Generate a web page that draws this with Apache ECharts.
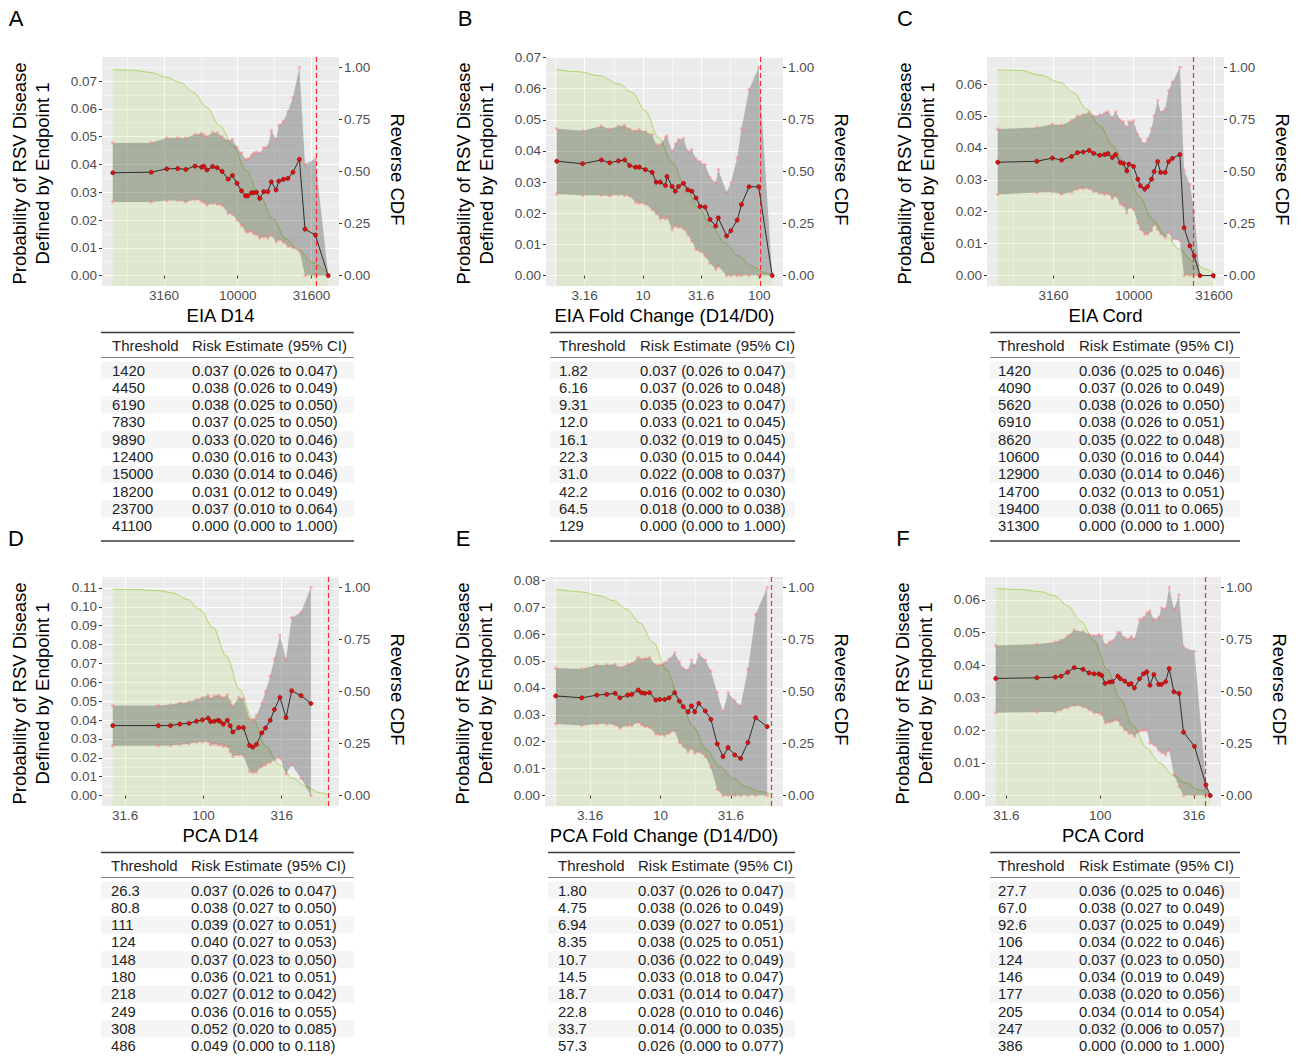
<!DOCTYPE html>
<html>
<head>
<meta charset="utf-8">
<script src="https://cdn.jsdelivr.net/npm/echarts@6/dist/echarts.min.js"></script>
<style>
html,body{margin:0;padding:0;background:#ffffff;}
#chart{width:1310px;height:1057px;}
</style>
</head>
<body>
<div id="chart"></div>
<script>
// ---------------- DATA ----------------
// Panel A : EIA D14
const aThreshold = [1420, 2590, 3300, 3920, 4450, 5130, 5690, 5900, 6190, 6750, 7250, 7830, 8610, 9200, 9890, 10600, 11300, 11700, 12400, 12800, 13400, 14100, 15000, 16000, 16900, 18200, 19000, 20400, 21900, 23700, 26200, 28600, 33600, 41100];
const aRisk = [0.0370, 0.0372, 0.0384, 0.0385, 0.0382, 0.0394, 0.0390, 0.0393, 0.0380, 0.0392, 0.0388, 0.0375, 0.0347, 0.0360, 0.0332, 0.0305, 0.0287, 0.0287, 0.0298, 0.0298, 0.0300, 0.0278, 0.0302, 0.0302, 0.0337, 0.0308, 0.0340, 0.0346, 0.0350, 0.0372, 0.0418, 0.0167, 0.0146, 0.0];
const aLower = [0.0265, 0.0265, 0.0270, 0.0270, 0.0265, 0.0274, 0.0268, 0.0264, 0.0254, 0.0260, 0.0257, 0.0252, 0.0224, 0.0221, 0.0200, 0.0180, 0.0160, 0.0155, 0.0160, 0.0150, 0.0148, 0.0135, 0.0140, 0.0135, 0.0145, 0.0122, 0.0130, 0.0120, 0.0105, 0.0100, 0.0090, 0.0, 0.0, 0.0];
const aUpper = [0.0477, 0.0478, 0.0495, 0.0496, 0.0495, 0.0508, 0.0512, 0.0505, 0.0500, 0.0515, 0.0513, 0.0500, 0.0485, 0.0490, 0.0462, 0.0440, 0.0418, 0.0420, 0.0432, 0.0440, 0.0445, 0.0440, 0.0460, 0.0465, 0.0522, 0.0490, 0.0540, 0.0555, 0.0590, 0.0640, 0.0749, 0.0400, 0.0420, 0.0];
const aCdfThreshold = [1420, 1970, 2550, 3300, 4060, 5000, 6150, 7560, 9300, 11440, 14080, 17320, 21300, 26200, 32230, 41100];
const aReverseCdf = [0.989, 0.986, 0.976, 0.952, 0.928, 0.880, 0.808, 0.720, 0.623, 0.503, 0.383, 0.271, 0.175, 0.119, 0.0625, 0.003];
const aCutoff = 33600;
const aXTicks = ['3160', '10000', '31600'];
const aYTicks = [0, 0.01, 0.02, 0.03, 0.04, 0.05, 0.06, 0.07];
const aTableThreshold = ['1420', '4450', '6190', '7830', '9890', '12400', '15000', '18200', '23700', '41100'];
const aTableRisk = ['0.037 (0.026 to 0.047)', '0.038 (0.026 to 0.049)', '0.038 (0.025 to 0.050)', '0.037 (0.025 to 0.050)', '0.033 (0.020 to 0.046)', '0.030 (0.016 to 0.043)', '0.030 (0.014 to 0.046)', '0.031 (0.012 to 0.049)', '0.037 (0.010 to 0.064)', '0.000 (0.000 to 1.000)'];

// Panel B : EIA Fold Change (D14/D0)
const bThreshold = [1.82, 3.03, 4.40, 5.19, 6.16, 6.96, 7.68, 8.64, 9.31, 10.5, 12.0, 13.0, 14.1, 15.6, 16.1, 17.8, 19.0, 20.2, 22.3, 24.3, 26.3, 28.6, 31.0, 34.2, 37.7, 42.2, 44.4, 52.3, 56.9, 64.5, 70.2, 81.6, 98.6, 129];
const bRisk = [0.0367, 0.0359, 0.0371, 0.0362, 0.0368, 0.0371, 0.0353, 0.0348, 0.0348, 0.0340, 0.0331, 0.0300, 0.0300, 0.0289, 0.0318, 0.0286, 0.0271, 0.0286, 0.0296, 0.0275, 0.0271, 0.0249, 0.0222, 0.0220, 0.0180, 0.0159, 0.0185, 0.0127, 0.0144, 0.0178, 0.0228, 0.0285, 0.0285, 0.0];
const bLower = [0.0262, 0.0258, 0.0258, 0.0255, 0.0260, 0.0258, 0.0255, 0.0235, 0.0232, 0.0230, 0.0212, 0.0199, 0.0182, 0.0182, 0.0188, 0.0148, 0.0159, 0.0155, 0.0150, 0.0132, 0.0111, 0.0084, 0.0078, 0.0063, 0.0040, 0.0020, 0.0030, 0.0, 0.0, 0.0, 0.0, 0.0, 0.0, 0.0];
const bUpper = [0.0471, 0.0465, 0.0479, 0.0470, 0.0479, 0.0482, 0.0470, 0.0464, 0.0468, 0.0462, 0.0452, 0.0420, 0.0420, 0.0444, 0.0448, 0.0398, 0.0422, 0.0436, 0.0440, 0.0398, 0.0404, 0.0374, 0.0365, 0.0356, 0.0315, 0.0298, 0.0340, 0.0267, 0.0297, 0.0378, 0.0471, 0.0597, 0.0668, 0.0];
const bCdfThreshold = [1.82, 2.84, 4.21, 6.23, 8.09, 10.5, 13.7, 17.8, 23.1, 30.0, 38.9, 50.6, 65.7, 85.4, 111, 129];
const bReverseCdf = [0.989, 0.979, 0.960, 0.920, 0.880, 0.790, 0.660, 0.545, 0.430, 0.325, 0.235, 0.158, 0.095, 0.046, 0.014, 0.003];
const bCutoff = 102.6;
const bXTicks = ['3.16', '10', '31.6', '100'];
const bYTicks = [0, 0.01, 0.02, 0.03, 0.04, 0.05, 0.06, 0.07];
const bTableThreshold = ['1.82', '6.16', '9.31', '12.0', '16.1', '22.3', '31.0', '42.2', '64.5', '129'];
const bTableRisk = ['0.037 (0.026 to 0.047)', '0.037 (0.026 to 0.048)', '0.035 (0.023 to 0.047)', '0.033 (0.021 to 0.045)', '0.032 (0.019 to 0.045)', '0.030 (0.015 to 0.044)', '0.022 (0.008 to 0.037)', '0.016 (0.002 to 0.030)', '0.018 (0.000 to 0.038)', '0.000 (0.000 to 1.000)'];

// Panel C : EIA Cord
const cThreshold = [1420, 2490, 3110, 3550, 4090, 4460, 4840, 5270, 5620, 6140, 6590, 6910, 7350, 7710, 8240, 8620, 9060, 9320, 9960, 10600, 11000, 11700, 12200, 12900, 13400, 14100, 14700, 15700, 16500, 17400, 19400, 20600, 22400, 23800, 25900, 31300];
const cRisk = [0.0355, 0.0358, 0.0368, 0.0362, 0.0373, 0.0385, 0.0387, 0.0392, 0.0383, 0.0377, 0.0379, 0.0382, 0.0370, 0.0379, 0.0354, 0.0352, 0.0328, 0.0349, 0.0342, 0.0302, 0.0281, 0.0271, 0.0279, 0.0302, 0.0326, 0.0357, 0.0323, 0.0323, 0.0357, 0.0367, 0.0379, 0.0150, 0.0093, 0.0062, 0.0, 0.0];
const cLower = [0.0254, 0.0260, 0.0262, 0.0255, 0.0262, 0.0271, 0.0273, 0.0273, 0.0263, 0.0258, 0.0255, 0.0258, 0.0241, 0.0250, 0.0224, 0.0220, 0.0197, 0.0213, 0.0208, 0.0165, 0.0145, 0.0130, 0.0130, 0.0140, 0.0161, 0.0145, 0.0130, 0.0119, 0.0135, 0.0114, 0.0110, 0.0, 0.0, 0.0, 0.0, 0.0];
const cUpper = [0.0459, 0.0464, 0.0474, 0.0471, 0.0486, 0.0500, 0.0504, 0.0511, 0.0500, 0.0503, 0.0509, 0.0513, 0.0495, 0.0513, 0.0487, 0.0482, 0.0464, 0.0482, 0.0485, 0.0443, 0.0427, 0.0412, 0.0427, 0.0460, 0.0500, 0.0548, 0.0512, 0.0521, 0.0579, 0.0605, 0.0652, 0.0330, 0.0285, 0.0200, 0.0, 0.0];
const cCdfThreshold = [1420, 1960, 2610, 3470, 4200, 5070, 6140, 7420, 8970, 10800, 13100, 15900, 19200, 23200, 28100, 31300];
const cReverseCdf = [0.989, 0.986, 0.963, 0.928, 0.880, 0.800, 0.720, 0.623, 0.511, 0.383, 0.271, 0.191, 0.127, 0.0705, 0.030, 0.014];
const cCutoff = 23500;
const cXTicks = ['3160', '10000', '31600'];
const cYTicks = [0, 0.01, 0.02, 0.03, 0.04, 0.05, 0.06];
const cTableThreshold = ['1420', '4090', '5620', '6910', '8620', '10600', '12900', '14700', '19400', '31300'];
const cTableRisk = ['0.036 (0.025 to 0.046)', '0.037 (0.026 to 0.049)', '0.038 (0.026 to 0.050)', '0.038 (0.026 to 0.051)', '0.035 (0.022 to 0.048)', '0.030 (0.016 to 0.044)', '0.030 (0.014 to 0.046)', '0.032 (0.013 to 0.051)', '0.038 (0.011 to 0.065)', '0.000 (0.000 to 1.000)'];

// Panel D : PCA D14
const dThreshold = [26.3, 51.4, 61.5, 70.6, 80.8, 90.1, 98.4, 107, 111, 117, 124, 127, 134, 142, 148, 154, 168, 180, 197, 207, 218, 236, 249, 267, 284, 308, 337, 366, 420, 486];
const dRisk = [0.0371, 0.0371, 0.0371, 0.0379, 0.0383, 0.0394, 0.0401, 0.0410, 0.0392, 0.0394, 0.0399, 0.0394, 0.0379, 0.0399, 0.0370, 0.0337, 0.0360, 0.0360, 0.0266, 0.0257, 0.0272, 0.0332, 0.0358, 0.0399, 0.0456, 0.0520, 0.0413, 0.0555, 0.0530, 0.0488];
const dLower = [0.0264, 0.0264, 0.0266, 0.0270, 0.0275, 0.0282, 0.0284, 0.0287, 0.0270, 0.0273, 0.0270, 0.0270, 0.0260, 0.0260, 0.0234, 0.0207, 0.0216, 0.0211, 0.0128, 0.0122, 0.0125, 0.0154, 0.0163, 0.0176, 0.0190, 0.0199, 0.0115, 0.0163, 0.0092, 0.0];
const dUpper = [0.0477, 0.0477, 0.0482, 0.0491, 0.0496, 0.0509, 0.0520, 0.0530, 0.0515, 0.0527, 0.0530, 0.0527, 0.0518, 0.0534, 0.0500, 0.0473, 0.0518, 0.0512, 0.0405, 0.0400, 0.0425, 0.0490, 0.0550, 0.0633, 0.0722, 0.0850, 0.0722, 0.0943, 0.0970, 0.1103];
const dCdfThreshold = [26.3, 39.3, 52.6, 64.0, 77.8, 94.6, 115, 140, 170, 207, 251, 305, 371, 452, 549, 627];
const dReverseCdf = [0.992, 0.989, 0.984, 0.973, 0.944, 0.895, 0.807, 0.670, 0.510, 0.365, 0.236, 0.148, 0.0836, 0.0434, 0.0145, 0.004];
const dCutoff = 627;
const dXTicks = ['31.6', '100', '316'];
const dYTicks = [0, 0.01, 0.02, 0.03, 0.04, 0.05, 0.06, 0.07, 0.08, 0.09, 0.10, 0.11];
const dTableThreshold = ['26.3', '80.8', '111', '124', '148', '180', '218', '249', '308', '486'];
const dTableRisk = ['0.037 (0.026 to 0.047)', '0.038 (0.027 to 0.050)', '0.039 (0.027 to 0.051)', '0.040 (0.027 to 0.053)', '0.037 (0.023 to 0.050)', '0.036 (0.021 to 0.051)', '0.027 (0.012 to 0.042)', '0.036 (0.016 to 0.055)', '0.052 (0.020 to 0.085)', '0.049 (0.000 to 0.118)'];

// Panel E : PCA Fold Change (D14/D0)
const eThreshold = [1.80, 2.75, 3.52, 4.14, 4.75, 5.14, 5.83, 6.23, 6.94, 7.33, 7.74, 8.35, 9.26, 9.88, 10.7, 11.5, 12.6, 13.6, 14.5, 15.7, 16.6, 17.5, 18.7, 20.8, 22.8, 25.3, 27.8, 30.2, 33.7, 37.1, 41.8, 47.4, 57.3];
const eRisk = [0.0370, 0.0363, 0.0373, 0.0376, 0.0380, 0.0363, 0.0373, 0.0376, 0.0392, 0.0382, 0.0380, 0.0382, 0.0355, 0.0357, 0.0357, 0.0363, 0.0382, 0.0351, 0.0330, 0.0311, 0.0333, 0.0311, 0.0342, 0.0314, 0.0283, 0.0192, 0.0145, 0.0178, 0.0151, 0.0138, 0.0197, 0.0289, 0.0256];
const eLower = [0.0266, 0.0260, 0.0266, 0.0266, 0.0263, 0.0250, 0.0260, 0.0260, 0.0272, 0.0262, 0.0256, 0.0254, 0.0229, 0.0226, 0.0223, 0.0231, 0.0241, 0.0197, 0.0182, 0.0163, 0.0176, 0.0157, 0.0163, 0.0145, 0.0105, 0.0023, 0.0, 0.0, 0.0, 0.0, 0.0, 0.0, 0.0];
const eUpper = [0.0474, 0.0470, 0.0485, 0.0485, 0.0488, 0.0476, 0.0488, 0.0491, 0.0513, 0.0506, 0.0509, 0.0513, 0.0485, 0.0485, 0.0493, 0.0506, 0.0530, 0.0497, 0.0472, 0.0466, 0.0503, 0.0481, 0.0525, 0.0503, 0.0462, 0.0382, 0.0311, 0.0382, 0.0352, 0.0333, 0.0468, 0.0672, 0.0773];
const eCdfThreshold = [1.80, 2.68, 3.71, 4.61, 5.74, 7.13, 8.87, 11.0, 13.7, 17.0, 21.2, 26.3, 32.7, 40.7, 50.6, 62.2];
const eReverseCdf = [0.992, 0.979, 0.960, 0.936, 0.895, 0.830, 0.735, 0.606, 0.461, 0.333, 0.220, 0.140, 0.0836, 0.0434, 0.0193, 0.006];
const eCutoff = 62.2;
const eXTicks = ['3.16', '10', '31.6'];
const eYTicks = [0, 0.01, 0.02, 0.03, 0.04, 0.05, 0.06, 0.07, 0.08];
const eTableThreshold = ['1.80', '4.75', '6.94', '8.35', '10.7', '14.5', '18.7', '22.8', '33.7', '57.3'];
const eTableRisk = ['0.037 (0.026 to 0.047)', '0.038 (0.026 to 0.049)', '0.039 (0.027 to 0.051)', '0.038 (0.025 to 0.051)', '0.036 (0.022 to 0.049)', '0.033 (0.018 to 0.047)', '0.031 (0.014 to 0.047)', '0.028 (0.010 to 0.046)', '0.014 (0.000 to 0.035)', '0.026 (0.000 to 0.077)'];

// Panel F : PCA Cord
const fThreshold = [27.7, 45.9, 57.6, 61.7, 67.0, 72.6, 80.9, 87.1, 92.6, 98.3, 102, 106, 112, 116, 124, 128, 135, 142, 146, 152, 162, 170, 177, 184, 193, 205, 212, 223, 233, 247, 263, 278, 318, 366, 386];
const fRisk = [0.0359, 0.0361, 0.0363, 0.0366, 0.0378, 0.0392, 0.0387, 0.0376, 0.0373, 0.0373, 0.0368, 0.0344, 0.0348, 0.0349, 0.0366, 0.0358, 0.0351, 0.0341, 0.0343, 0.0330, 0.0358, 0.0373, 0.0379, 0.0338, 0.0371, 0.0341, 0.0341, 0.0349, 0.0389, 0.0318, 0.0313, 0.0194, 0.0151, 0.0033, 0.0];
const fLower = [0.0254, 0.0256, 0.0256, 0.0262, 0.0270, 0.0276, 0.0272, 0.0264, 0.0253, 0.0253, 0.0248, 0.0222, 0.0225, 0.0228, 0.0231, 0.0217, 0.0202, 0.0192, 0.0192, 0.0182, 0.0197, 0.0199, 0.0200, 0.0161, 0.0156, 0.0140, 0.0132, 0.0125, 0.0140, 0.0062, 0.0028, 0.0, 0.0, 0.0, 0.0];
const fUpper = [0.0460, 0.0464, 0.0471, 0.0476, 0.0489, 0.0507, 0.0502, 0.0494, 0.0491, 0.0494, 0.0489, 0.0462, 0.0471, 0.0474, 0.0500, 0.0499, 0.0484, 0.0479, 0.0488, 0.0479, 0.0540, 0.0545, 0.0560, 0.0566, 0.0540, 0.0545, 0.0576, 0.0573, 0.0638, 0.0571, 0.0614, 0.0455, 0.0443, 0.0035, 0.0];
const fCdfThreshold = [27.7, 38.0, 48.4, 56.9, 66.9, 78.7, 92.5, 109, 128, 150, 177, 208, 244, 287, 338, 386];
const fReverseCdf = [0.995, 0.989, 0.979, 0.960, 0.912, 0.839, 0.743, 0.606, 0.461, 0.333, 0.228, 0.156, 0.0997, 0.0595, 0.0273, 0.008];
const fCutoff = 363;
const fXTicks = ['31.6', '100', '316'];
const fYTicks = [0, 0.01, 0.02, 0.03, 0.04, 0.05, 0.06];
const fTableThreshold = ['27.7', '67.0', '92.6', '106', '124', '146', '177', '205', '247', '386'];
const fTableRisk = ['0.036 (0.025 to 0.046)', '0.038 (0.027 to 0.049)', '0.037 (0.025 to 0.049)', '0.034 (0.022 to 0.046)', '0.037 (0.023 to 0.050)', '0.034 (0.019 to 0.049)', '0.038 (0.020 to 0.056)', '0.034 (0.014 to 0.054)', '0.032 (0.006 to 0.057)', '0.000 (0.000 to 1.000)'];

const cdfTicks = [0, 0.25, 0.5, 0.75, 1];
const yTitle = 'Probability of RSV Disease\nDefined by Endpoint 1';
const cdfTitle = 'Reverse CDF';
const tableHeader = ['Threshold', 'Risk Estimate (95% CI)'];

// ---------------- LAYOUT ----------------
const FONT = '"Liberation Sans", Arial, Helvetica, sans-serif';
const panels = [
  {letter: 'A', letterPos: [16, 18], xTitle: 'EIA D14', x: aThreshold, est: aRisk, lo: aLower, hi: aUpper, cdfX: aCdfThreshold, cdf: aReverseCdf, cut: aCutoff, xTicks: aXTicks, yTicks: aYTicks, tThr: aTableThreshold, tRisk: aTableRisk, box: [102, 57, 237, 229], table: [101, 354, 112, 192], dy: 0},
  {letter: 'B', letterPos: [465, 18], xTitle: 'EIA Fold Change (D14/D0)', x: bThreshold, est: bRisk, lo: bLower, hi: bUpper, cdfX: bCdfThreshold, cdf: bReverseCdf, cut: bCutoff, xTicks: bXTicks, yTicks: bYTicks, tThr: bTableThreshold, tRisk: bTableRisk, box: [546, 57, 237, 229], table: [550, 795, 559, 640], dy: 0},
  {letter: 'C', letterPos: [905, 18], xTitle: 'EIA Cord', x: cThreshold, est: cRisk, lo: cLower, hi: cUpper, cdfX: cCdfThreshold, cdf: cReverseCdf, cut: cCutoff, xTicks: cXTicks, yTicks: cYTicks, tThr: cTableThreshold, tRisk: cTableRisk, box: [987, 57, 237, 229], table: [990, 1240, 998, 1079], dy: 0},
  {letter: 'D', letterPos: [16, 538], xTitle: 'PCA D14', x: dThreshold, est: dRisk, lo: dLower, hi: dUpper, cdfX: dCdfThreshold, cdf: dReverseCdf, cut: dCutoff, xTicks: dXTicks, yTicks: dYTicks, tThr: dTableThreshold, tRisk: dTableRisk, box: [102, 577, 237, 229], table: [101, 354, 111, 191], dy: 520},
  {letter: 'E', letterPos: [463, 538], xTitle: 'PCA Fold Change (D14/D0)', x: eThreshold, est: eRisk, lo: eLower, hi: eUpper, cdfX: eCdfThreshold, cdf: eReverseCdf, cut: eCutoff, xTicks: eXTicks, yTicks: eYTicks, tThr: eTableThreshold, tRisk: eTableRisk, box: [545, 577, 238, 229], table: [548, 795, 558, 638], dy: 520},
  {letter: 'F', letterPos: [903, 538], xTitle: 'PCA Cord', x: fThreshold, est: fRisk, lo: fLower, hi: fUpper, cdfX: fCdfThreshold, cdf: fReverseCdf, cut: fCutoff, xTicks: fXTicks, yTicks: fYTicks, tThr: fTableThreshold, tRisk: fTableRisk, box: [985, 577, 236, 229], table: [990, 1240, 998, 1079], dy: 520}
];

const grids = [], xAxes = [], yAxes = [], series = [], elements = [];
const log10 = Math.log10;

function textEl(x, y, text, opt) {
  opt = opt || {};
  return {
    type: 'text', x: x, y: y, rotation: opt.rotation || 0, silent: true, z: 20,
    style: {
      text: text, fill: opt.fill || '#000000', fontSize: opt.size || 14, fontFamily: FONT,
      align: opt.align || 'center', verticalAlign: 'middle',
      textAlign: opt.align || 'center', textVerticalAlign: 'middle',
      lineHeight: opt.lineHeight || undefined
    }
  };
}
function lineEl(x1, y1, x2, y2, color, w) {
  return {type: 'line', silent: true, z: 19, shape: {x1: x1, y1: y1, x2: x2, y2: y2}, style: {stroke: color, lineWidth: w}};
}

panels.forEach(function (p, k) {
  const [left, top, width, height] = p.box;
  grids.push({left: left, top: top, width: width, height: height, show: true, backgroundColor: '#EBEBEB', borderWidth: 0, containLabel: false, outerBoundsMode: 'none'});

  // x range in log10 space with 5% expansion
  const allX = p.x.concat(p.cdfX, [p.cut]).map(log10);
  const xLo = Math.min.apply(null, allX), xHi = Math.max.apply(null, allX);
  const xPad = 0.05 * (xHi - xLo);
  const xMin = xLo - xPad, xMax = xHi + xPad;
  const xMajor = p.xTicks.map(function (s) { return log10(Number(s)); });
  const step = xMajor[1] - xMajor[0];
  const xMinor = [];
  for (let v = xMajor[0] - step / 2; v <= xMax; v += step) { if (v >= xMin) xMinor.push(v); }

  // y range: 0 .. max upper CI, with 5% expansion; CDF axis mapped on 0..1
  const M = Math.max.apply(null, p.hi);
  const yMin = -0.05 * M, yMax = 1.05 * M;
  const yMinor = [];
  for (let v = 0.005; v <= yMax; v += 0.01) { yMinor.push(Math.round(v * 1000) / 1000); }

  const labelStyle = {color: '#4d4d4d', fontSize: 13.5, fontFamily: FONT};
  const tickStyle = {show: true, length: 3, inside: false, lineStyle: {color: '#333333', width: 1}};

  const xi = xAxes.length;
  xAxes.push({
    gridIndex: k, type: 'value', min: xMin, max: xMax, position: 'bottom',
    axisLine: {show: false},
    axisTick: Object.assign({}, tickStyle, {customValues: xMajor}),
    axisLabel: Object.assign({}, labelStyle, {margin: 2, customValues: xMajor, formatter: function (v) {
      let best = 0, bd = Infinity;
      xMajor.forEach(function (t, i) { const d = Math.abs(t - v); if (d < bd) { bd = d; best = i; } });
      return p.xTicks[best];
    }}),
    splitLine: {show: true, lineStyle: {color: '#ffffff', width: 1.1}}
  });
  xAxes.push({
    gridIndex: k, type: 'value', min: xMin, max: xMax, position: 'top',
    axisLine: {show: false}, axisLabel: {show: false},
    axisTick: {show: false, customValues: xMinor},
    splitLine: {show: true, lineStyle: {color: '#ffffff', width: 0.55, opacity: 0.9}}
  });

  const yi = yAxes.length;
  yAxes.push({
    gridIndex: k, type: 'value', min: yMin, max: yMax, position: 'left',
    axisLine: {show: false},
    axisTick: Object.assign({}, tickStyle, {customValues: p.yTicks}),
    axisLabel: Object.assign({}, labelStyle, {margin: 5, customValues: p.yTicks, formatter: function (v) { return v.toFixed(2); }}),
    splitLine: {show: true, lineStyle: {color: '#ffffff', width: 1.1}}
  });
  yAxes.push({
    gridIndex: k, type: 'value', min: -0.05, max: 1.05, position: 'right',
    axisLine: {show: false},
    axisTick: Object.assign({}, tickStyle, {customValues: cdfTicks}),
    axisLabel: Object.assign({}, labelStyle, {margin: 5, customValues: cdfTicks, formatter: function (v) { return v.toFixed(2); }}),
    splitLine: {show: false}
  });
  yAxes.push({
    gridIndex: k, type: 'value', min: yMin, max: yMax, position: 'left', offset: 0,
    axisLine: {show: false}, axisLabel: {show: false},
    axisTick: {show: false, customValues: yMinor},
    splitLine: {show: true, lineStyle: {color: '#ffffff', width: 0.55, opacity: 0.9}}
  });

  const lx = p.x.map(log10);
  const band = lx.map(function (v, i) { return [v, p.lo[i], p.hi[i]]; });

  // reverse CDF area (right axis)
  series.push({
    type: 'line', xAxisIndex: xi, yAxisIndex: yi + 1, z: 2, silent: true,
    data: p.cdfX.map(function (v, i) { return [log10(v), p.cdf[i]]; }),
    smooth: 0.35, smoothMonotone: 'x', symbol: 'none', showSymbol: false,
    lineStyle: {color: 'rgba(154,205,50,0.7)', width: 1},
    areaStyle: {color: 'rgba(154,205,50,0.21)', origin: 'start'}
  });
  // 95% CI band
  series.push({
    type: 'custom', xAxisIndex: xi, yAxisIndex: yi, z: 3, silent: true,
    data: band, encode: {x: 0, y: [1, 2]},
    renderItem: function (params, api) {
      if (params.dataIndex !== 0) return null;
      const pts = [];
      for (let i = 0; i < band.length; i++) pts.push(api.coord([band[i][0], band[i][2]]));
      for (let i = band.length - 1; i >= 0; i--) pts.push(api.coord([band[i][0], band[i][1]]));
      return {type: 'polygon', shape: {points: pts}, style: {fill: 'rgba(45,45,45,0.30)', stroke: 'none'}};
    }
  });
  // CI bound markers
  series.push({
    type: 'scatter', xAxisIndex: xi, yAxisIndex: yi, z: 4, silent: true,
    data: lx.map(function (v, i) { return [v, p.hi[i]]; }), symbolSize: 3.4,
    itemStyle: {color: 'rgba(250,120,120,0.6)'}
  });
  series.push({
    type: 'scatter', xAxisIndex: xi, yAxisIndex: yi, z: 4, silent: true,
    data: lx.map(function (v, i) { return [v, p.lo[i]]; }), symbolSize: 3.4,
    itemStyle: {color: 'rgba(250,120,120,0.6)'}
  });
  // risk estimate line + points + cutoff line
  series.push({
    type: 'line', xAxisIndex: xi, yAxisIndex: yi, z: 5, silent: true,
    data: lx.map(function (v, i) { return [v, p.est[i]]; }),
    symbol: 'circle', symbolSize: 4.2, showSymbol: true,
    itemStyle: {color: '#dd1111', borderColor: '#7a0000', borderWidth: 0.5},
    lineStyle: {color: '#2e2e2e', width: 1},
    markLine: {
      silent: true, symbol: ['none', 'none'], label: {show: false}, animation: false,
      lineStyle: {color: '#ff2b2b', type: [5, 3], width: 1.2},
      emphasis: {disabled: true},
      data: [{xAxis: log10(p.cut)}]
    }
  });

  // titles
  elements.push(textEl(p.letterPos[0], p.letterPos[1], p.letter, {size: 22}));
  elements.push(textEl(left + width / 2, top + height + 29, p.xTitle, {size: 18.5}));
  elements.push(textEl(left - 71, top + height / 2 + 2, yTitle, {size: 18.5, rotation: Math.PI / 2, lineHeight: 23}));
  elements.push(textEl(left + width + 58, top + height / 2 - 2, cdfTitle, {size: 18.5, rotation: -Math.PI / 2}));

  // table
  const [tx0, tx1, c1, c2] = p.table;
  const dy = p.dy;
  const rowStep = 17.3, row0 = 370.5 + dy;
  elements.push(lineEl(tx0, 332.5 + dy, tx1, 332.5 + dy, '#3a3a3a', 1.6));
  elements.push(textEl(c1, 345.5 + dy, tableHeader[0], {size: 15, align: 'left', fill: '#222222'}));
  elements.push(textEl(c2, 345.5 + dy, tableHeader[1], {size: 15, align: 'left', fill: '#222222'}));
  elements.push(lineEl(tx0, 357.5 + dy, tx1, 357.5 + dy, '#8a8a8a', 1));
  p.tThr.forEach(function (t, i) {
    const cy = row0 + i * rowStep;
    if (i % 2 === 0) {
      elements.push({type: 'rect', silent: true, z: 18, shape: {x: tx0, y: cy - rowStep / 2, width: tx1 - tx0, height: rowStep}, style: {fill: '#f5f5f5'}});
    }
    elements.push(textEl(c1, cy, t, {size: 14.8, align: 'left', fill: '#222222'}));
    elements.push(textEl(c2, cy, p.tRisk[i], {size: 14.8, align: 'left', fill: '#222222'}));
  });
  elements.push(lineEl(tx0, 541 + dy, tx1, 541 + dy, '#3a3a3a', 1.6));
});

const chart = echarts.init(document.getElementById('chart'), null, {renderer: 'svg', width: 1310, height: 1057});
chart.setOption({
  animation: false,
  backgroundColor: '#ffffff',
  textStyle: {fontFamily: FONT},
  grid: grids,
  xAxis: xAxes,
  yAxis: yAxes,
  series: series,
  graphic: {elements: elements}
});
</script>
</body>
</html>
